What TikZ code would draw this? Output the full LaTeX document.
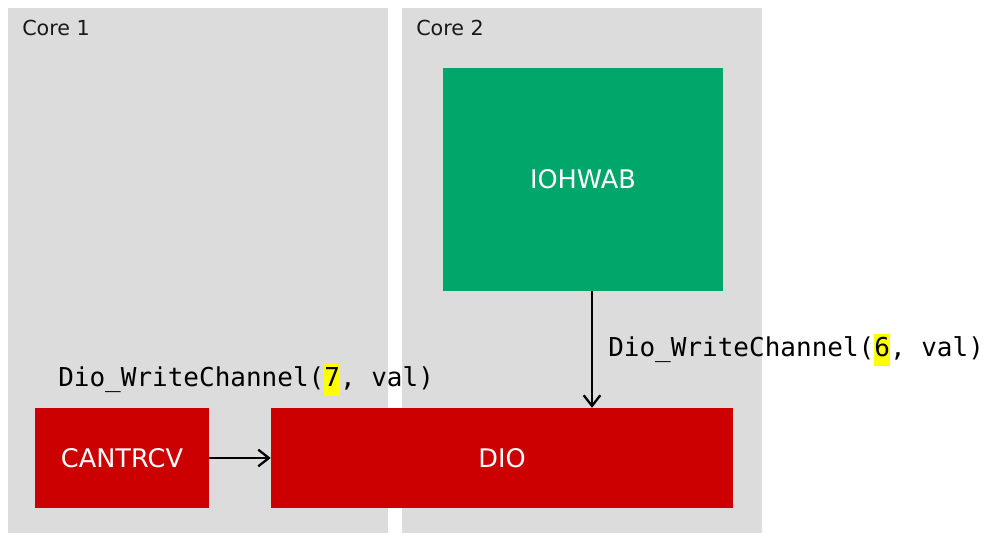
\documentclass[tikz,border=0pt]{standalone}
\usepackage{fontspec}
\setmainfont{DejaVu Sans}
\setmonofont{DejaVu Sans Mono}
\usetikzlibrary{arrows.meta}
\definecolor{coregray}{HTML}{DCDCDC}
\definecolor{boxgreen}{HTML}{00A66A}
\definecolor{boxred}{HTML}{CC0000}
\definecolor{hlyellow}{HTML}{FFFF00}
\newcommand{\hlnum}[1]{{\setlength{\fboxsep}{0pt}\colorbox{hlyellow}{\strut #1}}}
\tikzset{
  corebox/.style={fill=coregray, draw=none, anchor=north west, inner sep=0pt},
  corelabel/.style={anchor=west, font=\fontsize{15.5}{18}\selectfont, text=black!90, inner sep=0pt},
  greenbox/.style={fill=boxgreen, draw=none, text=white, font=\fontsize{19.2}{23}\selectfont, inner sep=0pt},
  redbox/.style={fill=boxred, draw=none, text=white, font=\fontsize{19.2}{23}\selectfont, inner sep=0pt},
  calllabel/.style={anchor=west, inner sep=0pt, font=\fontsize{19.5}{23.4}\selectfont\ttfamily},
  arr/.style={line width=1.7pt, -{Straight Barb[length=8pt,width=12.5pt,line width=1.7pt]}}
}
\begin{document}
\begin{tikzpicture}[x=0.75pt,y=-0.75pt]
\useasboundingbox (0,0) rectangle (984,534);
\node[corebox, minimum width=285pt, minimum height=393.75pt] (core1) at (8,8) {};
\node[corebox, minimum width=270pt, minimum height=393.75pt] (core2) at (402,8) {};
\node[corelabel] (core1lbl) at (22,28) {Core 1};
\node[corelabel] (core2lbl) at (416,28) {Core 2};
\node[greenbox, minimum width=210pt, minimum height=167.25pt] (iohwab) at (583,179.5) {\raisebox{-2pt}{IOHWAB}};
\node[redbox, minimum width=130.5pt, minimum height=75pt] (cantrcv) at (122,458) {\raisebox{-2pt}{CANTRCV}};
\node[redbox, minimum width=346.5pt, minimum height=75pt] (dio) at (502,458) {\raisebox{-2pt}{DIO}};
\node[calllabel] (lbl1) at (58,380) {Dio\_WriteChannel(\hlnum{7}, val)};
\node[calllabel] (lbl2) at (608,350) {Dio\_WriteChannel(\hlnum{6}, val)};
\draw[arr] (cantrcv.east) -- (dio.west);
\draw[arr] ([xshift=6.75pt]iohwab.south) -- ([xshift=6.75pt]iohwab.south |- dio.north);
\end{tikzpicture}
\end{document}
